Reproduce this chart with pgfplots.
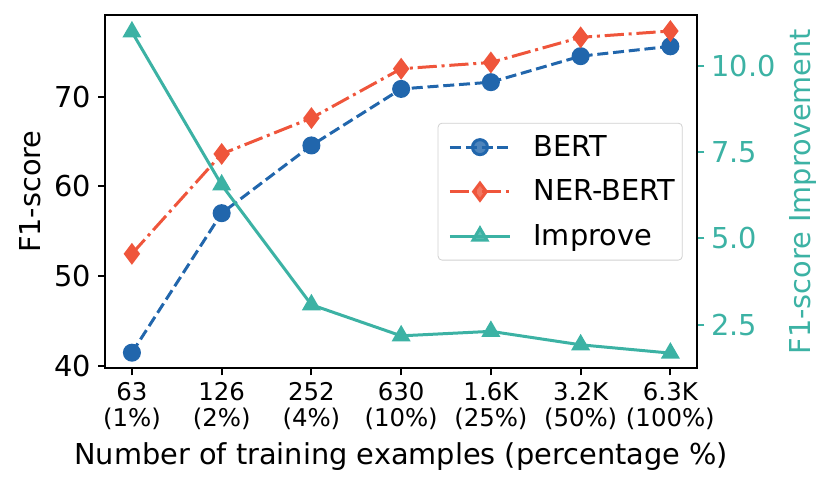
\documentclass[border=0pt]{standalone}
\usepackage{fontspec}
\setmainfont{DejaVu Sans}
\usepackage{pgfplots}
\pgfplotsset{compat=1.18}
\definecolor{cblue}{RGB}{33,102,172}
\definecolor{cred}{RGB}{239,85,59}
\definecolor{cteal}{RGB}{60,178,164}
\begin{document}
\begin{tikzpicture}
\pgfplotsset{
  every axis/.append style={
    scale only axis, width=296.15pt, height=176.65pt,
    xmin=-0.3, xmax=6.3,
    tick align=outside, major tick length=3.5pt,
    /pgf/number format/assume math mode=true,
    tick label style={font=\fontsize{14.4}{17}\selectfont},
    label style={font=\fontsize{14.4}{17}\selectfont},
    axis line style={line width=1pt},
    every tick/.style={line width=1pt},
  }
}
\begin{axis}[
  name=main,
  ymin=39.71, ymax=79.09,
  ytick={40,50,60,70},
  xtick={0,1,2,3,4,5,6},
  xticklabels={{63\\(1\%)},{126\\(2\%)},{252\\(4\%)},{630\\(10\%)},{1.6K\\(25\%)},{3.2K\\(50\%)},{6.3K\\(100\%)}},
  xticklabel style={align=center, font=\fontsize{12.2}{12.8}\selectfont},
  xtick pos=bottom, ytick pos=left,
  xlabel={Number of training examples (percentage \%)},
  ylabel={F1-score},
]
\addplot[cblue, line width=1.5pt, dash pattern=on 5.5pt off 2.4pt, mark=*, mark size=3.75pt, mark options={solid}]
  coordinates {(0,41.45) (1,57.0) (2,64.55) (3,70.85) (4,71.6) (5,74.5) (6,75.6)};
\addplot[cred, line width=1.5pt, dash pattern=on 9.6pt off 2.4pt on 1.5pt off 2.4pt, mark=diamond*, mark size=4.25pt, mark options={solid}]
  coordinates {(0,52.47) (1,63.6) (2,67.6) (3,73.1) (4,73.8) (5,76.6) (6,77.3)};
\end{axis}
\begin{axis}[
  ymin=1.24, ymax=11.47,
  axis y line*=right, axis x line=none,
  ytick={2.5,5,7.5,10},
  yticklabel style={text=cteal, /pgf/number format/.cd, fixed, fixed zerofill, precision=1},
  ytick style={draw=cteal},
  ylabel={F1-score Improvement}, ylabel style={text=cteal},
  legend style={at={(rel axis cs:1,0.5)}, xshift=-7.3pt, anchor=east,
    draw=black!18, rounded corners=2pt, fill=white, fill opacity=0.8, text opacity=1,
    font=\fontsize{14.4}{17}\selectfont, inner xsep=1.7pt, inner ysep=4pt,
    row sep=6.25pt, /tikz/every odd column/.append style={column sep=9pt}},
  legend cell align=left,
  legend image code/.code={\path (0pt,0pt); \draw[mark repeat=2,mark phase=2] plot coordinates {(3.5pt,0pt) (18.5pt,0pt) (33.5pt,0pt)};},
]
\addlegendimage{cblue, line width=1.5pt, dash pattern=on 5.5pt off 2.4pt, mark=*, mark size=3.75pt, mark options={solid}}
\addlegendentry{BERT}
\addlegendimage{cred, line width=1.5pt, dash pattern=on 9.6pt off 2.4pt on 1.5pt off 2.4pt, mark=diamond*, mark size=4.25pt, mark options={solid}}
\addlegendentry{NER-BERT}
\addplot[cteal, line width=1.5pt, mark=triangle*, mark size=4pt]
  coordinates {(0,10.98) (1,6.55) (2,3.08) (3,2.18) (4,2.31) (5,1.92) (6,1.68)};
\addlegendentry{Improve}
\end{axis}
\pgfresetboundingbox
\path[use as bounding box] ([xshift=-52.5pt,yshift=-53.85pt]main.south west) rectangle ([xshift=66.85pt,yshift=7.5pt]main.north east);
\end{tikzpicture}
\end{document}
